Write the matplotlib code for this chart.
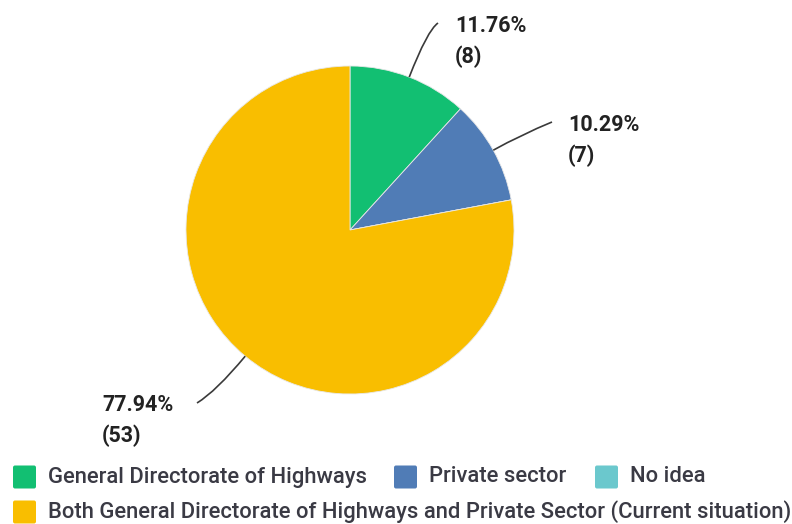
import matplotlib
matplotlib.use("Agg")
import matplotlib.pyplot as plt
import numpy as np
from matplotlib.patches import FancyBboxPatch, PathPatch
from matplotlib.path import Path

categories = [
    "General Directorate of Highways",
    "Private sector",
    "No idea",
    "Both General Directorate of Highways and Private Sector (Current situation)",
]
counts = [8, 7, 0, 53]
percents = [11.76, 10.29, 0.00, 77.94]
colors = ["#12BF72", "#507CB6", "#6BC8CD", "#F9BE00"]

W, H = 792, 524
fig = plt.figure(figsize=(W / 100, H / 100), dpi=100)
ax = fig.add_axes([0, 0, 1, 1])

cx, cy, r = 350, H - 230, 164
wedges, _ = ax.pie(counts, colors=colors, startangle=90, counterclock=False,
                   center=(cx, cy), radius=r, frame=True,
                   wedgeprops=dict(linewidth=0.6, edgecolor="#e8e8e8"))
ax.set_xlim(0, W)
ax.set_ylim(0, H)
ax.axis("off")

font = "Roboto"
label_color = "#222222"
legend_color = "#3a3a44"

# leader line end points and label anchors (pixels from top-left)
label_pos = {
    0: dict(end=(438, 23), text=(455, 26)),
    1: dict(end=(552, 122), text=(568, 125)),
    3: dict(end=(197, 403), text=(102, 405)),
}
ctrl_dist = {0: 50, 1: 32, 3: 46}

for i, w in enumerate(wedges):
    if counts[i] == 0:
        continue
    mid = np.deg2rad((w.theta1 + w.theta2) / 2)
    sx, sy = cx + r * np.cos(mid), cy + r * np.sin(mid)
    d = ctrl_dist[i]
    kx, ky = sx + d * np.cos(mid), sy + d * np.sin(mid)
    ex, ey = label_pos[i]["end"]
    ey = H - ey
    path = Path([(sx, sy), (kx, ky), (ex, ey)],
                [Path.MOVETO, Path.CURVE3, Path.CURVE3])
    ax.add_patch(PathPatch(path, fill=False, edgecolor="#3a3a3a", lw=1.2))
    tx, ty = label_pos[i]["text"]
    ax.text(tx, H - ty, f"{percents[i]:.2f}%", ha="left", va="center",
            fontsize=15.5, fontweight="bold", color=label_color, family=font)
    ax.text(tx, H - ty - 31, f"({counts[i]})", ha="left", va="center",
            fontsize=15.5, fontweight="bold", color=label_color, family=font)

# legend, laid out in two rows
legend_items = [
    (0, 13, 477),
    (1, 394, 477),
    (2, 595, 477),
    (3, 13, 512),
]
sq = 23
for idx, x, y in legend_items:
    ax.add_patch(FancyBboxPatch((x, H - y - sq / 2), sq, sq,
                                boxstyle="round,pad=0,rounding_size=2",
                                facecolor=colors[idx], edgecolor="none"))
    ax.text(x + sq + 12, H - y, categories[idx], ha="left", va="center",
            fontsize=15.8, fontweight="medium", color=legend_color, family=font)

fig.savefig("out.png", dpi=100, facecolor="white")
